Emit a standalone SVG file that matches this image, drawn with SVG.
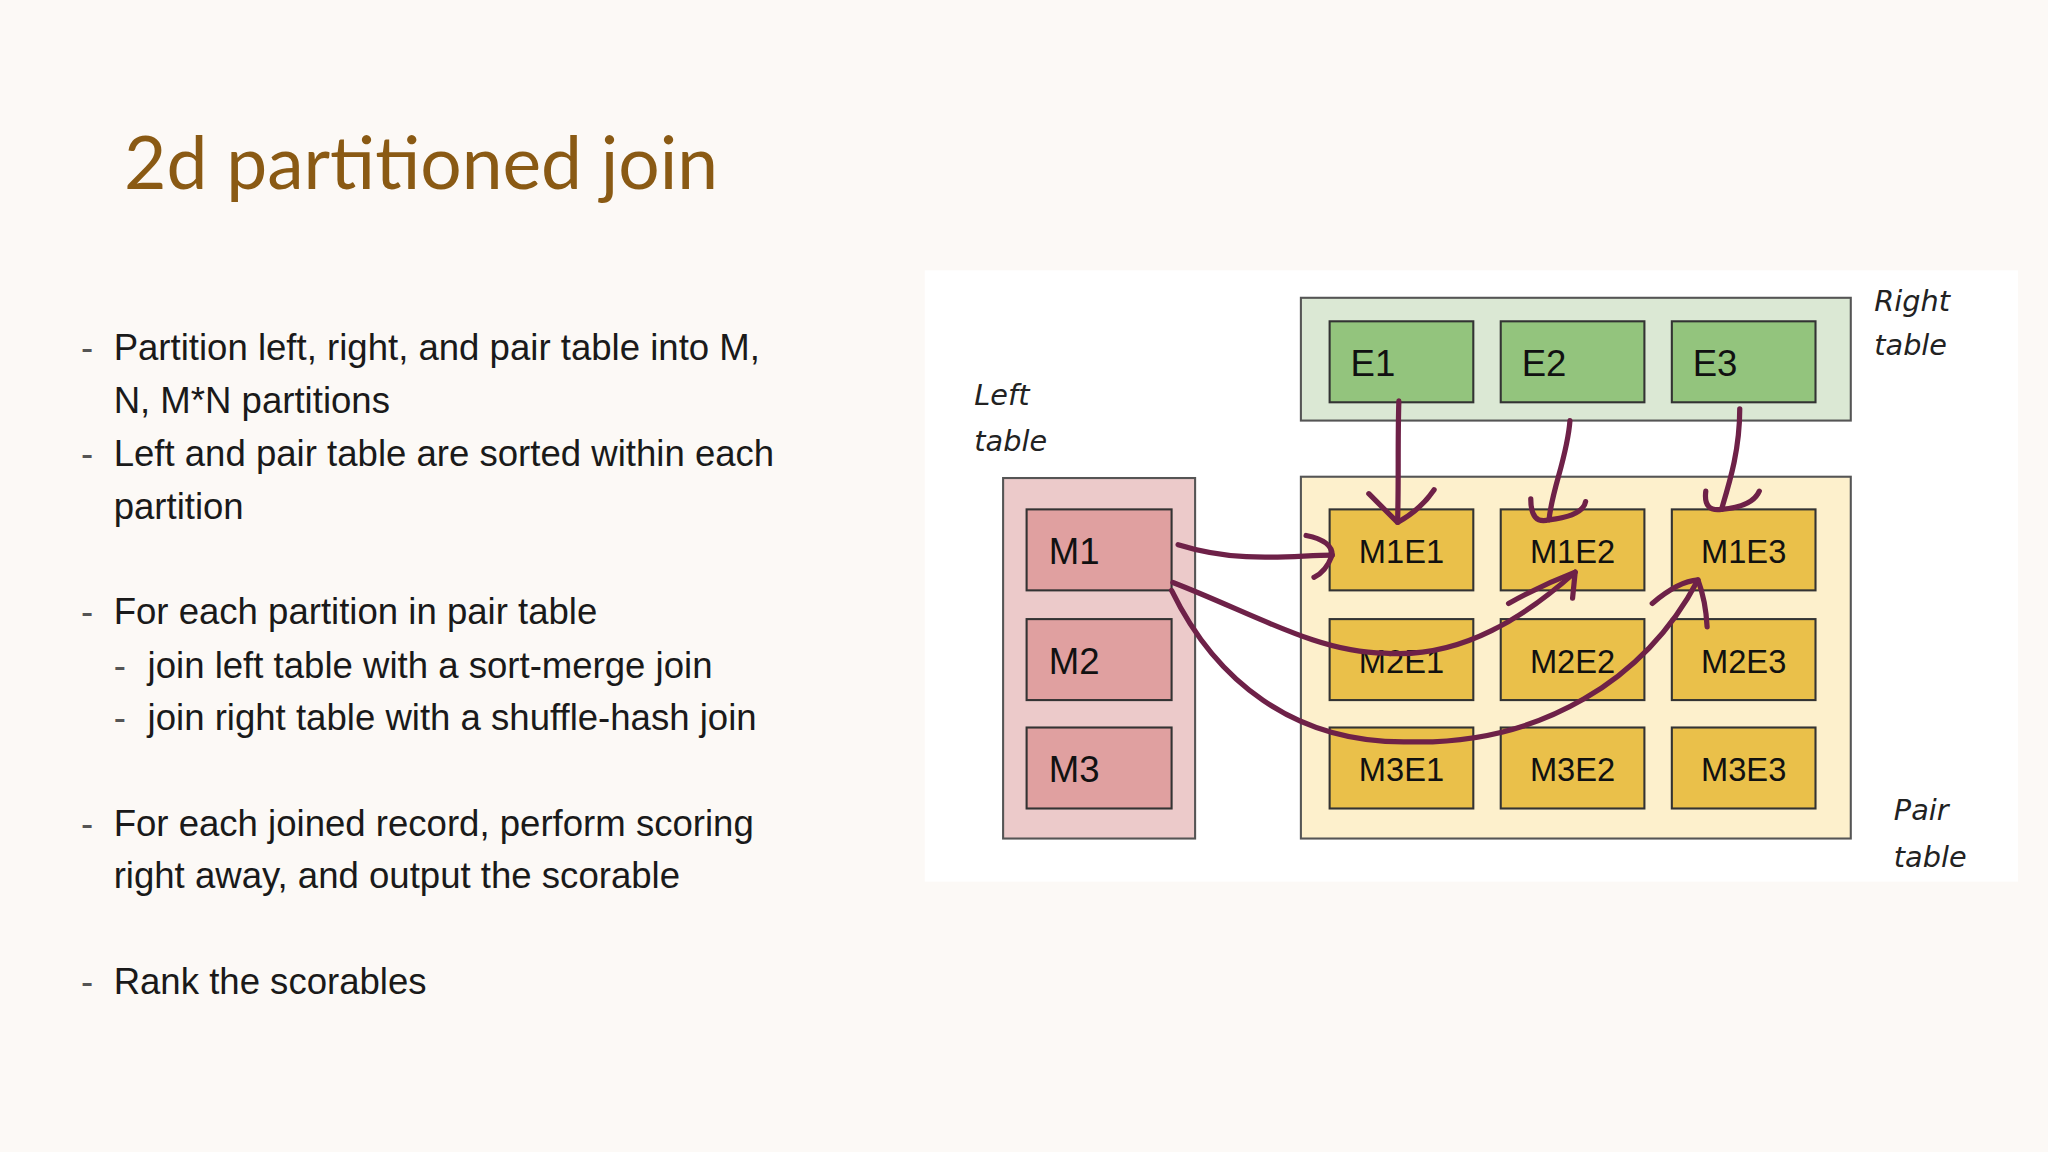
<svg xmlns="http://www.w3.org/2000/svg" width="2048" height="1152" viewBox="0 0 2048 1152">
<style>
.t{font-family:"Liberation Sans",Arial,sans-serif;font-size:28px;fill:#1a1a1a}
.d{font-family:"Liberation Sans",Arial,sans-serif;font-size:28px;fill:#555}
.b{stroke:#333;stroke-width:1.6}
.lbl{font-family:"Liberation Sans",Arial,sans-serif;font-size:28px;fill:#111}
.c{font-family:"Liberation Sans",Arial,sans-serif;font-size:25px;fill:#111}
.h{font-family:"DejaVu Sans",sans-serif;font-style:oblique;font-size:22px;fill:#222}
.a{fill:none;stroke:#6e2148;stroke-width:4;stroke-linecap:round;stroke-linejoin:round}
</style>
<rect width="2048" height="1152" fill="#fcf9f6"/>
<g transform="scale(1.30612)">
<text x="95" y="145" font-family="Lato,'Open Sans',sans-serif" font-size="56" fill="#8a5a14">2d partitioned join</text>
<g id="bullets">
<text x="62" y="276" class="d">-</text><text x="87" y="276" class="t">Partition left, right, and pair table into M,</text>
<text x="87" y="316" class="t">N, M*N partitions</text>
<text x="62" y="357" class="d">-</text><text x="87" y="357" class="t">Left and pair table are sorted within each</text>
<text x="87" y="397" class="t">partition</text>
<text x="62" y="478" class="d">-</text><text x="87" y="478" class="t">For each partition in pair table</text>
<text x="87" y="519" class="d">-</text><text x="113" y="519" class="t">join left table with a sort-merge join</text>
<text x="87" y="559" class="d">-</text><text x="113" y="559" class="t">join right table with a shuffle-hash join</text>
<text x="62" y="640" class="d">-</text><text x="87" y="640" class="t">For each joined record, perform scoring</text>
<text x="87" y="680" class="t">right away, and output the scorable</text>
<text x="62" y="761" class="d">-</text><text x="87" y="761" class="t">Rank the scorables</text>
</g>
<rect x="708" y="207" width="837" height="468" fill="#ffffff"/>
<g id="right-table"><rect x="996" y="228" width="421" height="94" fill="#dbe8d4" stroke="#555" stroke-width="1.6"/></g>
<g id="left-table"><rect x="768" y="366" width="147" height="276" fill="#eccaca" stroke="#555" stroke-width="1.6"/></g>
<g id="pair-table"><rect x="996" y="365" width="421" height="277" fill="#fdf0cc" stroke="#555" stroke-width="1.6"/></g>
<g id="E1"><rect x="1018" y="246" width="110" height="62" fill="#93c47d" class="b"/><text x="1034" y="288" class="lbl">E1</text></g>
<g id="E2"><rect x="1149" y="246" width="110" height="62" fill="#93c47d" class="b"/><text x="1165" y="288" class="lbl">E2</text></g>
<g id="E3"><rect x="1280" y="246" width="110" height="62" fill="#93c47d" class="b"/><text x="1296" y="288" class="lbl">E3</text></g>
<g id="M1"><rect x="786" y="390" width="111" height="62" fill="#e0a0a0" class="b"/><text x="803" y="432" class="lbl">M1</text></g>
<g id="M2"><rect x="786" y="474" width="111" height="62" fill="#e0a0a0" class="b"/><text x="803" y="516" class="lbl">M2</text></g>
<g id="M3"><rect x="786" y="557" width="111" height="62" fill="#e0a0a0" class="b"/><text x="803" y="599" class="lbl">M3</text></g>
<g id="M1E1"><rect x="1018" y="390" width="110" height="62" fill="#eac04a" class="b"/><text x="1073" y="431" class="c" text-anchor="middle">M1E1</text></g>
<g id="M1E2"><rect x="1149" y="390" width="110" height="62" fill="#eac04a" class="b"/><text x="1204" y="431" class="c" text-anchor="middle">M1E2</text></g>
<g id="M1E3"><rect x="1280" y="390" width="110" height="62" fill="#eac04a" class="b"/><text x="1335" y="431" class="c" text-anchor="middle">M1E3</text></g>
<g id="M2E1"><rect x="1018" y="474" width="110" height="62" fill="#eac04a" class="b"/><text x="1073" y="515" class="c" text-anchor="middle">M2E1</text></g>
<g id="M2E2"><rect x="1149" y="474" width="110" height="62" fill="#eac04a" class="b"/><text x="1204" y="515" class="c" text-anchor="middle">M2E2</text></g>
<g id="M2E3"><rect x="1280" y="474" width="110" height="62" fill="#eac04a" class="b"/><text x="1335" y="515" class="c" text-anchor="middle">M2E3</text></g>
<g id="M3E1"><rect x="1018" y="557" width="110" height="62" fill="#eac04a" class="b"/><text x="1073" y="598" class="c" text-anchor="middle">M3E1</text></g>
<g id="M3E2"><rect x="1149" y="557" width="110" height="62" fill="#eac04a" class="b"/><text x="1204" y="598" class="c" text-anchor="middle">M3E2</text></g>
<g id="M3E3"><rect x="1280" y="557" width="110" height="62" fill="#eac04a" class="b"/><text x="1335" y="598" class="c" text-anchor="middle">M3E3</text></g>
<g id="labels">
<text x="746" y="310" class="h">Left</text><text x="746" y="345" class="h">table</text>
<text x="1435" y="238" class="h">Right</text><text x="1435" y="272" class="h">table</text>
<text x="1450" y="628" class="h">Pair</text><text x="1450" y="664" class="h">table</text>
</g>
<g id="connectors">
<path class="a" d="M1071,307 C1070,340 1071,370 1070,400"/>
<path class="a" d="M1048,378 Q1062,392 1070,400 Q1088,390 1098,375"/>
<path class="a" d="M1202,322 C1200,350 1188,375 1186,398"/>
<path class="a" d="M1172,382 Q1172,402 1186,398 Q1212,395 1214,384"/>
<path class="a" d="M1332,313 C1332,345 1324,370 1318,390"/>
<path class="a" d="M1306,376 Q1304,392 1318,390 Q1342,388 1347,376"/>
<path class="a" d="M902,417 C950,432 990,425 1020,425"/>
<path class="a" d="M1000,410 Q1020,414 1020,425 Q1015,438 1006,442"/>
<path class="a" d="M898,446 C960,470 1010,500 1060,500 C1120,505 1170,470 1206,438"/>
<path class="a" d="M1155,462 Q1180,448 1206,438 L1204,458"/>
<path class="a" d="M897,452 C930,520 990,570 1080,568 C1180,570 1260,520 1300,444"/>
<path class="a" d="M1265,462 Q1285,445 1300,444 Q1306,460 1307,480"/>
</g>
</g>
</svg>
